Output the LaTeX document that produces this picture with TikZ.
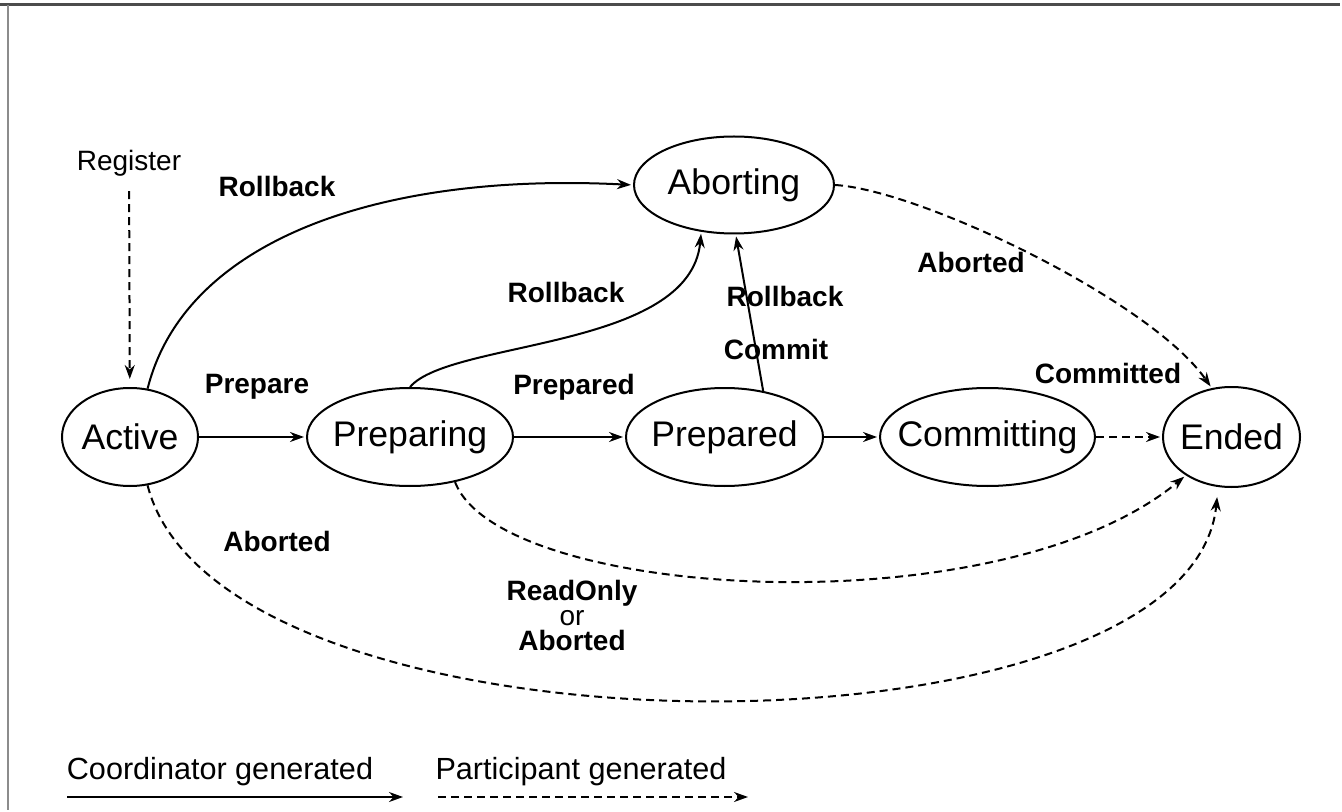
\documentclass[tikz,border=0pt]{standalone}
\usepackage{fontspec}
\setmainfont{Liberation Sans}
\usetikzlibrary{
        arrows.meta,
        positioning,
        shapes
    }
\tikzset{>={Stealth[length=7pt,width=5pt]},shorten >=1pt,node distance=2cm}
\tikzset{
    phase/.style={ellipse,draw,line width=1pt,inner sep=0pt,
        minimum height=49pt,font=\fontsize{17.8}{20}\selectfont},
    lbl/.style={font=\fontsize{14}{12.5}\selectfont\bfseries,align=center},
    note/.style={font=\fontsize{14}{14}\selectfont},
    legend/.style={font=\fontsize{15.3}{16}\selectfont},
    coord/.style={->,line width=1pt},
    part/.style={->,line width=1pt,dash pattern=on 4pt off 2.5pt}
}
% keep the ellipse as wide as asked, not as wide as its text
\newcommand{\nm}[1]{\makebox[0pt]{#1}}

\begin{document}
\begin{tikzpicture}[x=0.5pt,y=-0.5pt]
    \useasboundingbox (0,0) rectangle (1342,812);
    \draw[line width=1.5pt,black!70] (0,5) -- (1342,5);
    \draw[line width=1pt,black!45] (8,5) -- (8,812);

    % states
    \node[phase,minimum width=68pt] (act) at (130,437) {\nm{Active}};
    \node[phase,minimum width=103pt] (prep) [right=53.5pt of act] {\nm{Preparing}};
    \node[phase,minimum width=98.5pt] (pd) [right=55.5pt of prep] {\nm{Prepared}};
    \node[phase,minimum width=107.5pt] (comm) [right=27.5pt of pd] {\nm{Committing}};
    \node[phase,minimum width=68.5pt,minimum height=50pt] (end) [right=33pt of comm] {\nm{Ended}};
    \node[phase,minimum width=100pt,minimum height=48.5pt] (abort) at (734,185) {\nm{Aborting}};

    % labels
    \node[note] (reg) at (129,163) {Register};
    \node[lbl] (l1) at (277,186) {Rollback};
    \node[lbl] (l2) at (257,387) {Prepare};
    \node[lbl] (l3) at (566,292) {Rollback};
    \node[lbl] (l4) at (574,387) {Prepared};
    \node[lbl] (l5) at (785,296) {Rollback};
    \node[lbl] (l6) at (776,349) {Commit};
    \node[lbl] (l7) at (971,262) {Aborted};
    \node[lbl] (l8) at (1108,373) {Committed};
    \node[lbl] (l9) at (277,541) {Aborted};
    \node[lbl] (l10) at (572,615) {ReadOnly\\{\mdseries or}\\Aborted};

    % coordinator generated
    \draw[coord] (act) -- (prep);
    \draw[coord] (prep) -- (pd);
    \draw[coord] (pd) -- (comm);
    \draw[coord] (act.70) .. controls (185,240) and (380,172) .. (abort.west);
    \draw[coord] (prep.north) .. controls (450,340) and (690,350) .. (abort.235);
    \draw[coord] (pd.50) -- (abort.272);

    % participant generated
    \draw[part,shorten <=4pt,shorten >=4pt] (reg) -- (act);
    \draw[part] (comm) -- (end);
    \draw[part] (abort.east) .. controls (920,190) and (1150,300) .. (end.112);
    \draw[part] (prep.-45) .. controls (500,600) and (1000,630) .. (end.-140);
    \draw[part,shorten >=5pt] (act.-70) .. controls (220,770) and (1190,770) .. (end.-105);

    % legend
    \node[legend] (cg) at (220,772) {Coordinator generated};
    \node[legend] (pg) at (581,772) {Participant generated};
    \coordinate (cs) at (67,797);
    \coordinate (ce) at (405,797);
    \coordinate (ps) at (438,797);
    \coordinate (pe) at (750,797);
    \draw[coord] (cs) -- (ce);
    \draw[part] (ps) -- (pe);
\end{tikzpicture}
\end{document}
